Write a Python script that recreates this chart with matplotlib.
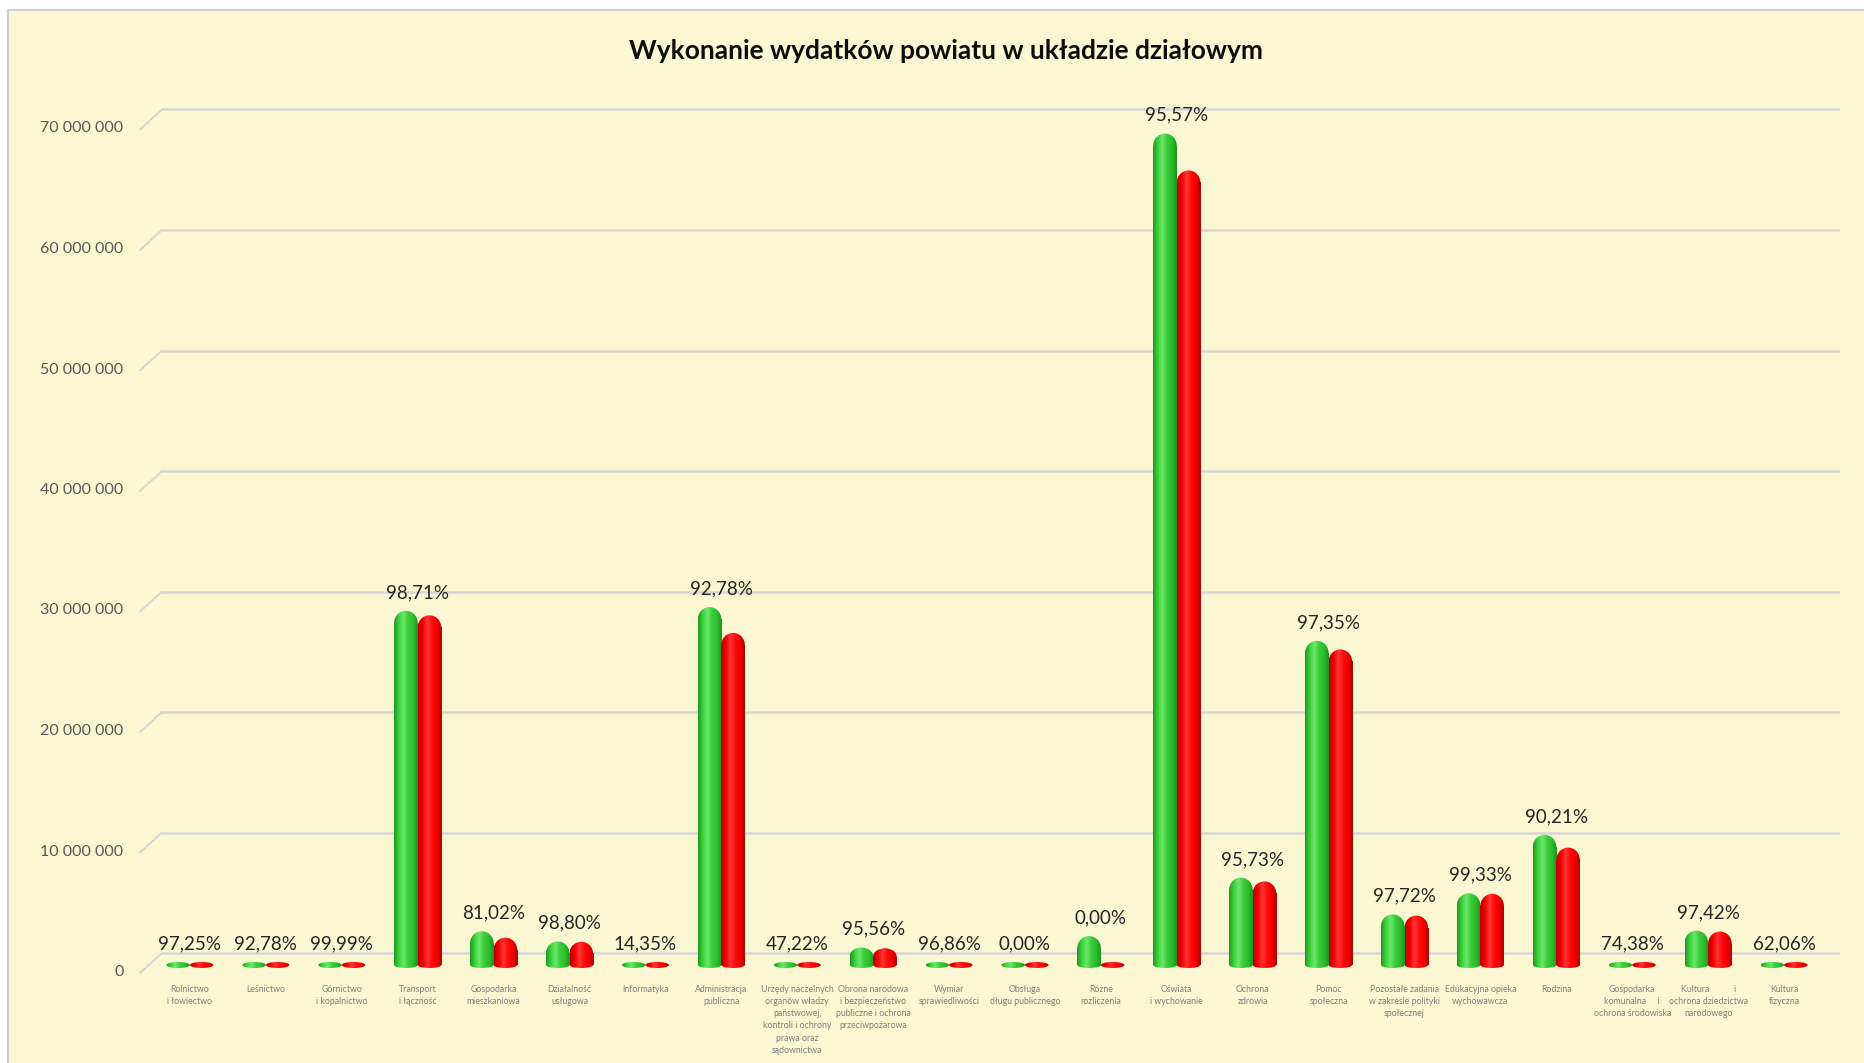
import matplotlib
matplotlib.use("Agg")
import matplotlib.pyplot as plt
import numpy as np
from matplotlib.patches import Rectangle, Ellipse
from matplotlib.colors import LinearSegmentedColormap
from matplotlib.transforms import ScaledTranslation, blended_transform_factory

# --- data ---
categories = [
    "Rolnictwo\ni łowiectwo",
    "Leśnictwo",
    "Górnictwo\ni kopalnictwo",
    "Transport\ni łączność",
    "Gospodarka\nmieszkaniowa",
    "Działalność\nusługowa",
    "Informatyka",
    "Administracja\npubliczna",
    "Urzędy naczelnych\norganów władzy\npaństwowej,\nkontroli i ochrony\nprawa oraz\nsądownictwa",
    "Obrona narodowa\ni bezpieczeństwo\npubliczne i ochrona\nprzeciwpożarowa",
    "Wymiar\nsprawiedliwości",
    "Obsługa\ndługu publicznego",
    "Różne\nrozliczenia",
    "Oświata\ni wychowanie",
    "Ochrona\nzdrowia",
    "Pomoc\nspołeczna",
    "Pozostałe zadania\nw zakresie polityki\nspołecznej",
    "Edukacyjna opieka\nwychowawcza",
    "Rodzina",
    "Gospodarka\nkomunalna     i\nochrona środowiska",
    "Kultura           i\nochrona dziedzictwa\nnarodowego",
    "Kultura\nfizyczna",
]

# plan (green) and execution (red), PLN
plan = [220000, 180000, 150000, 29400000, 2800000, 1950000, 120000, 29700000,
        50000, 1450000, 300000, 350000, 2400000, 69000000, 7250000, 26900000,
        4200000, 5950000, 10800000, 150000, 2850000, 100000]
wykonanie = [214000, 167000, 150000, 29020000, 2270000, 1930000, 17000, 27560000,
             24000, 1390000, 290000, 0, 0, 65940000, 6940000, 26190000,
             4100000, 5910000, 9740000, 110000, 2780000, 62000]

percent_labels = ["97,25%", "92,78%", "99,99%", "98,71%", "81,02%", "98,80%",
                  "14,35%", "92,78%", "47,22%", "95,56%", "96,86%", "0,00%",
                  "0,00%", "95,57%", "95,73%", "97,35%", "97,72%", "99,33%",
                  "90,21%", "74,38%", "97,42%", "62,06%"]

y_ticks = [0, 10000000, 20000000, 30000000, 40000000, 50000000, 60000000, 70000000]

# --- style ---
BG = "#FAF7D2"
GRID = "#D6D6D2"
green_cmap = LinearSegmentedColormap.from_list(
    "g", ["#1E9A1E", "#3CD23C", "#6BE86B", "#3ACB3A", "#2BBE2B", "#1C941C"])
red_cmap = LinearSegmentedColormap.from_list(
    "r", ["#B80000", "#F20000", "#FF3535", "#FF0A0A", "#EE0000", "#B00000"])
font = "Lato"

W, H = 1865, 1063
fig = plt.figure(figsize=(W / 100, H / 100), dpi=100, facecolor="white")

# panel behind the chart
fig.patches.append(Rectangle((8 / W, -0.01), 1.0, 1 - 10 / H + 0.01, transform=fig.transFigure,
                             facecolor=BG, edgecolor="#D0D0D0", linewidth=1.5, zorder=-10))

ymin, ymax = -900000, 70000000
px_per_unit = 12.05 / 1e6
ax_bottom = 965 + (-ymin) * px_per_unit
ax_top = 965 - ymax * px_per_unit
left_px, right_px = 152, 1822
ax = fig.add_axes([left_px / W, 1 - ax_bottom / H, (right_px - left_px) / W, (ax_bottom - ax_top) / H])
ax.set_facecolor("none")
for s in ax.spines.values():
    s.set_visible(False)
ax.set_xticks([])
ax.set_yticks([])


def off(dx, dy):
    return ScaledTranslation(dx / 100, dy / 100, fig.dpi_scale_trans)


# back-wall gridlines with a short perspective step on the left
btrans = blended_transform_factory(ax.transAxes, ax.transData)
x_front = (140 - left_px) / (right_px - left_px)
x_back = (162 - left_px) / (right_px - left_px)
x_end = (1838 - left_px) / (right_px - left_px)
for t in y_ticks:
    ax.plot([x_back, x_end], [t, t], color=GRID, lw=1.8, transform=btrans + off(0, 12),
            clip_on=False, zorder=1)
    ax.annotate("", xy=(x_back, t), xytext=(x_front, t), xycoords=btrans + off(0, 12),
                textcoords=btrans + off(0, -8),
                arrowprops=dict(arrowstyle="-", color=GRID, lw=1.4, shrinkA=0, shrinkB=0))
    ax.text(-0.017, t, f"{t:,}".replace(",", " "), transform=btrans + off(0, -7),
            ha="right", va="center", fontsize=11.5, color="#595959", family=font)

w = 0.31
cap = 1.0e6
disc = 0.5e6
x = np.arange(len(categories))


def shade(patch, cmap, x0, x1, y0, y1, z):
    patch.set_facecolor("none")
    patch.set_edgecolor("none")
    patch.set_zorder(z)
    ax.add_patch(patch)
    grad = np.linspace(0, 1, 64).reshape(1, -1)
    im = ax.imshow(grad, extent=[x0, x1, y0, y1], cmap=cmap, aspect="auto",
                   origin="lower", zorder=z, interpolation="bilinear")
    im.set_clip_path(patch)


def cylinder(xc, v, cmap, z):
    """Cylinder with a rounded cap; tiny values show only the flat disc."""
    x0, x1 = xc - w / 2, xc + w / 2
    if v < disc:
        shade(Ellipse((xc, 0), w, disc), cmap, x0, x1, -disc, disc, z)
        return disc / 2
    r = min(cap, v / 2)
    top = v - r
    shade(Ellipse((xc, 0), w, disc), cmap, x0, x1, -disc, disc, z)
    shade(Rectangle((x0, 0), w, top), cmap, x0, x1, 0, top, z)
    shade(Ellipse((xc, top), w, 2 * r), cmap, x0, x1, top - 2 * r, top + 2 * r, z)
    return v


for i in range(len(categories)):
    g_top = cylinder(x[i] - w / 2, plan[i], green_cmap, 3)
    r_top = cylinder(x[i] + w / 2, wykonanie[i], red_cmap, 4)
    ax.annotate(percent_labels[i], (x[i], max(g_top, r_top)), xytext=(0, 7),
                textcoords="offset points", ha="center", va="bottom",
                fontsize=13.5, color="#262626", family=font, zorder=6)

for i, c in enumerate(categories):
    ax.text(x[i], 0, c, transform=ax.transData + off(0, -20), ha="center", va="top",
            fontsize=6.3, color="#808080", family=font, linespacing=1.45)

ax.set_xlim(-0.5, len(categories) - 0.5)
ax.set_ylim(ymin, ymax)

fig.text(946 / W, 1 - 51 / H, "Wykonanie wydatków powiatu w układzie działowym",
         ha="center", va="center", fontsize=19, fontweight="bold", color="#0D0D0D",
         family=font)

fig.savefig("out.png", dpi=100, facecolor="white")
